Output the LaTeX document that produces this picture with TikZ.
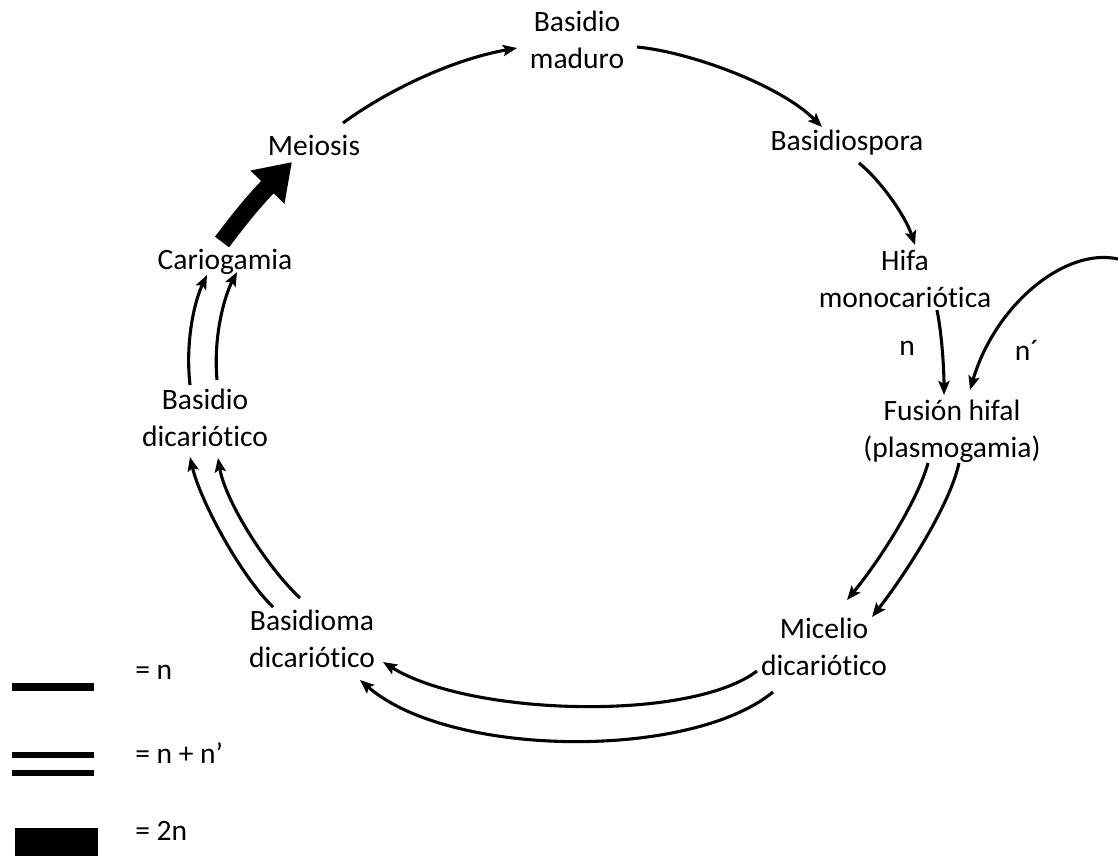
\documentclass[tikz,border=0pt]{standalone}
\usepackage{fontspec}
\setmainfont{Carlito}[Ligatures=NoCommon]
\usetikzlibrary{arrows.meta,calc}

\begin{document}
\begin{tikzpicture}[x=0.025cm,y=-0.025cm,
                etapa/.style={align=center,inner sep=0pt,font=\fontsize{21}{26.3}\selectfont},
                flecha/.style={line width=2.2pt,-{Stealth[length=10pt,width=8pt,inset=2pt]}},
                gruesa/.style={line width=12.5pt,-{Triangle[length=25pt,width=32pt]}},
                raya/.style={line width=4.6pt}]
                \useasboundingbox (0,0) rectangle (1118,856);
                % etapas del ciclo
                \node [etapa] (bm) at (577,40) {Basidio\\maduro};
                \node [etapa] (bsp) at (847,143) {Basidiospora};
                \node [etapa] (hifa) at (905,279) {Hifa\\monocariótica};
                \node [etapa] (fus) at (952,431) {Fusión hifal\\(plasmogamia)};
                \node [etapa] (mic) at (824,647) {Micelio\\dicariótico};
                \node [etapa] (bdm) at (312,639) {Basidioma\\dicariótico};
                \node [etapa] (bdc) at (205,418) {Basidio\\dicariótico};
                \node [etapa] (car) at (225,262) {Cariogamia};
                \node [etapa] (mei) at (314,145) {Meiosis};
                \node [etapa] (n1) at (907,348) {n};
                \node [etapa] (n2) at (1027,350) {n´};
                \coordinate (np) at (1118,259);
                % flechas simples
                \draw [flecha] ($(mei)+(29,-22)$) .. controls (385,92) and (450,60) .. ($(bm)+(-60,8)$);
                \draw [flecha] ($(bm)+(60,7)$) .. controls (690,52) and (780,85) .. ($(bsp)+(-25,-16)$);
                \draw [flecha] ($(bsp)+(12,20)$) .. controls (880,180) and (905,215) .. ($(hifa)+(10,-34)$);
                \draw [flecha] ($(hifa)+(32,31)$) .. controls (942,335) and (944,370) .. ($(fus)+(-8,-36)$);
                \draw [flecha] (np) .. controls (1065,247) and (995,305) .. ($(fus)+(18,-41)$);
                % flechas dobles
                \draw [flecha] ($(fus)+(-24,32)$) .. controls (918,500) and (880,560) .. ($(mic)+(23,-47)$);
                \draw [flecha] ($(fus)+(7,32)$) .. controls (950,505) and (905,575) .. ($(mic)+(48,-30)$);
                \draw [flecha] ($(mic)+(-67,24)$) .. controls (690,722) and (470,716) .. ($(bdm)+(71,23)$);
                \draw [flecha] ($(mic)+(-51,45)$) .. controls (690,760) and (450,758) .. ($(bdm)+(48,41)$);
                \draw [flecha] ($(bdm)+(-39,-32)$) .. controls (240,575) and (200,500) .. ($(bdc)+(-15,39)$);
                \draw [flecha] ($(bdm)+(-12,-41)$) .. controls (265,565) and (225,500) .. ($(bdc)+(13,40)$);
                \draw [flecha] ($(bdc)+(-15,-33)$) .. controls (185,340) and (195,300) .. ($(car)+(-18,13)$);
                \draw [flecha] ($(bdc)+(12,-38)$) .. controls (213,335) and (225,295) .. ($(car)+(12,10)$);
                \draw [gruesa] ($(car)+(-3,-20)$) .. controls (235,225) and (250,205) .. ($(mei)+(-22,17)$);
                % leyenda
                \draw [line width=5pt] (12,687) -- (94,687);
                \draw [raya] (12,755) -- (94,755);
                \draw [raya] (12,773) -- (94,773);
                \fill (15,828) rectangle (98,856);
                \node [etapa,anchor=west] (l1) at (135,672) {= n};
                \node [etapa,anchor=west] (l2) at (135,753) {= n + n’};
                \node [etapa,anchor=west] (l3) at (135,831) {= 2n};
\end{tikzpicture}
\end{document}
